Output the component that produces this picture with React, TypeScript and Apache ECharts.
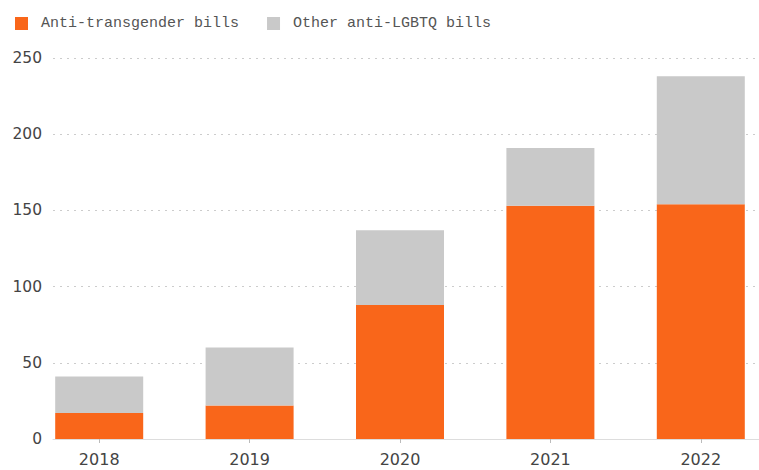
import React, { useEffect, useRef } from "react";
import * as echarts from "echarts";

const years = ["2018", "2019", "2020", "2021", "2022"];
const antiTrans = [17, 22, 88, 153, 154];
const otherAntiLgbtq = [24, 38, 49, 38, 84];
const yTicks = { min: 0, max: 250, interval: 50 };

export default function App() {
  const ref = useRef<HTMLDivElement>(null);
  useEffect(() => {
    const chart = echarts.init(ref.current!, null, { renderer: "svg" });
    const top = 58;
    const bottom = 31;
    chart.setOption({
      animation: false,
      legend: {
        left: 10,
        top: 11,
        itemWidth: 13,
        itemHeight: 13,
        itemGap: 28,
        icon: "rect",
        textStyle: {
          fontFamily: "Liberation Mono",
          fontSize: 15,
          color: "#555",
          padding: [0, 0, 0, 8],
        },
        data: ["Anti-transgender bills", "Other anti-LGBTQ bills"],
      },
      grid: [
        { left: 24, right: 0, top, bottom },
        { left: 53, right: 17, top, bottom },
      ],
      xAxis: [
        {
          type: "category",
          gridIndex: 0,
          data: years,
          axisLine: { show: false },
          axisTick: { show: true, alignWithLabel: true, length: 4, lineStyle: { color: "#bbb" } },
          axisLabel: { color: "#444", fontSize: 16, fontFamily: "DejaVu Sans", margin: 12 },
        },
        {
          type: "category",
          gridIndex: 1,
          data: years,
          axisLine: { show: true, lineStyle: { color: "#ddd" } },
          axisTick: { show: false },
          axisLabel: { show: false },
        },
      ],
      yAxis: [
        {
          type: "value",
          gridIndex: 0,
          ...yTicks,
          show: false,
          splitLine: { show: false },
        },
        {
          type: "value",
          gridIndex: 1,
          ...yTicks,
          axisLine: { show: false },
          axisTick: { show: false },
          axisLabel: { color: "#444", fontSize: 15.5, fontFamily: "DejaVu Sans", margin: 11 },
          splitLine: { show: true, lineStyle: { color: "#ccc", type: [2, 5], width: 1 } },
        },
      ],
      series: [
        {
          name: "Anti-transgender bills",
          type: "bar",
          stack: "total",
          xAxisIndex: 0,
          yAxisIndex: 0,
          barWidth: 88,
          itemStyle: { color: "#F9661A" },
          data: antiTrans,
        },
        {
          name: "Other anti-LGBTQ bills",
          type: "bar",
          stack: "total",
          xAxisIndex: 0,
          yAxisIndex: 0,
          barWidth: 88,
          itemStyle: { color: "#C9C9C9" },
          data: otherAntiLgbtq,
        },
      ],
    });
    return () => chart.dispose();
  }, []);
  return (
    <div
      ref={ref}
      style={{ position: "fixed", left: 0, top: 0, width: 776, height: 470, background: "#fff" }}
    />
  );
}
